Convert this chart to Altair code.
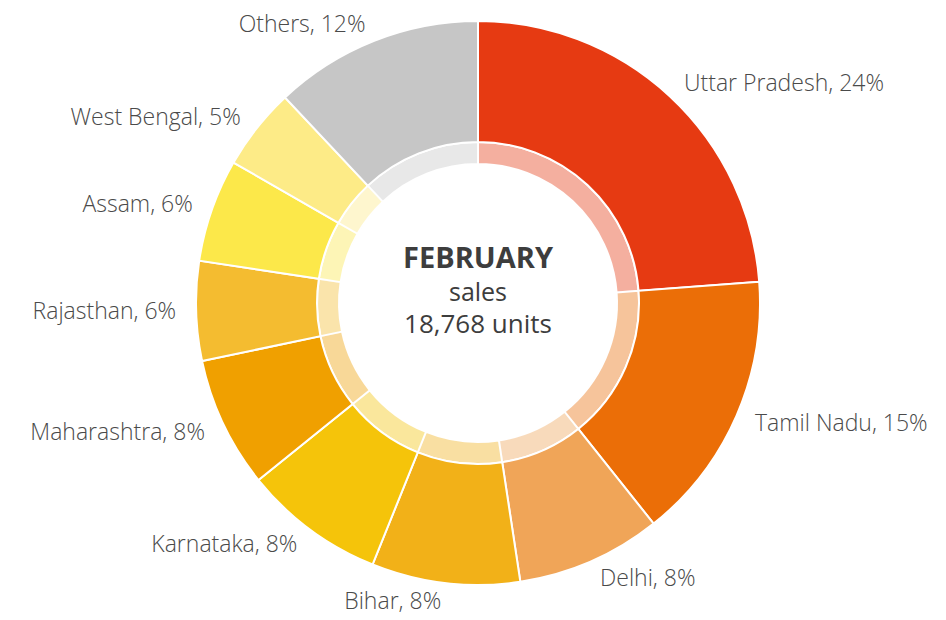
import altair as alt
import pandas as pd

states = ["Uttar Pradesh", "Tamil Nadu", "Delhi", "Bihar", "Karnataka",
          "Maharashtra", "Rajasthan", "Assam", "West Bengal", "Others"]
shares = [23.8, 15.5, 8.3, 8.5, 8.1, 7.5, 5.7, 5.9, 4.7, 12.0]
shown_pct = [24, 15, 8, 8, 8, 8, 6, 6, 5, 12]
colors = ["#E63A12", "#EB6E07", "#F0A558", "#F2B118", "#F5C40A",
          "#F0A000", "#F4BC30", "#FCE84A", "#FDEB87", "#C6C6C6"]
month = "FEBRUARY"
subtitle = "sales"
total_text = "18,768 units"

df = pd.DataFrame({"state": states, "share": shares, "pct": shown_pct,
                   "idx": list(range(len(states)))})
df["cum"] = df["share"].cumsum()
df["mid"] = df["cum"] - df["share"] / 2
df["label"] = df["state"] + ", " + df["pct"].astype(str) + "%"

CX, CY = 478, 303
FONT = "Open Sans"

color = alt.Color("state:N", scale=alt.Scale(domain=states, range=colors), legend=None)
base = alt.Chart(df)

outer = base.mark_arc(innerRadius=161, outerRadius=282, stroke="white", strokeWidth=2).encode(
    theta=alt.Theta("share:Q", stack=True, scale=alt.Scale(domain=[0, 100])),
    order=alt.Order("idx:Q"),
    color=color,
    x=alt.value(CX), y=alt.value(CY),
)
inner = base.mark_arc(innerRadius=139, outerRadius=161, stroke="white", strokeWidth=2, opacity=0.4).encode(
    theta=alt.Theta("share:Q", stack=True, scale=alt.Scale(domain=[0, 100])),
    order=alt.Order("idx:Q"),
    color=color,
    x=alt.value(CX), y=alt.value(CY),
)

def label_layer(right_side):
    flt = "datum.mid < 50" if right_side else "datum.mid >= 50"
    return base.transform_filter(flt).mark_text(
        align="left" if right_side else "right", baseline="middle",
        font=FONT, fontSize=23, fontWeight=300, color="#4a4a4a",
        dx=2 if right_side else -2, dy=1,
    ).encode(
        theta=alt.Theta("mid:Q", stack=None, scale=alt.Scale(domain=[0, 100])),
        radius=alt.value(300),
        text="label:N",
        x=alt.value(CX), y=alt.value(CY),
    )

center1 = alt.Chart(pd.DataFrame({"t": [month]})).mark_text(
    font=FONT, fontSize=29, fontWeight="bold", color="#3d3d3d", baseline="middle"
).encode(text="t:N", x=alt.value(CX), y=alt.value(CY - 44))
center2 = alt.Chart(pd.DataFrame({"t": [subtitle]})).mark_text(
    font=FONT, fontSize=25, color="#3d3d3d", baseline="middle"
).encode(text="t:N", x=alt.value(CX), y=alt.value(CY - 10))
center3 = alt.Chart(pd.DataFrame({"t": [total_text]})).mark_text(
    font=FONT, fontSize=26, fontWeight=500, color="#3d3d3d", baseline="middle"
).encode(text="t:N", x=alt.value(CX), y=alt.value(CY + 22))

chart = alt.layer(inner, outer, label_layer(True), label_layer(False),
                  center1, center2, center3).properties(
    width=946, height=620, padding=0,
    autosize=alt.AutoSizeParams(type="fit", contains="padding"),
).configure_view(stroke=None)

chart.save("out.html", embed_options={"renderer": "svg", "actions": False})
